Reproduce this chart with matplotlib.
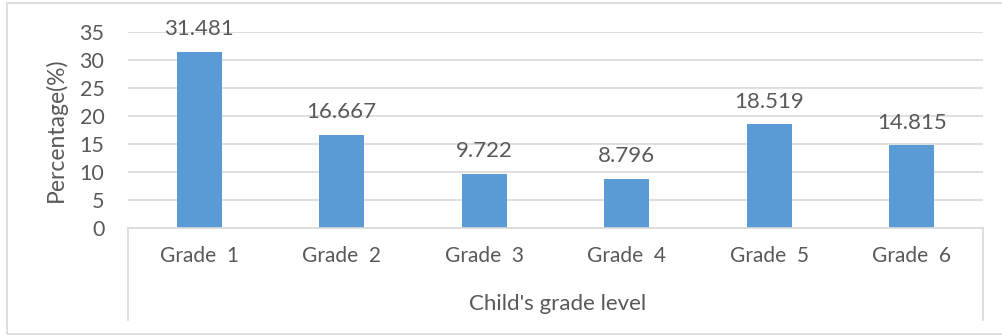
import matplotlib
matplotlib.use("Agg")
import matplotlib.pyplot as plt
from matplotlib.lines import Line2D
from matplotlib.patches import Rectangle

categories = ["Grade  1", "Grade  2", "Grade  3", "Grade  4", "Grade  5", "Grade  6"]
percentages = [31.481, 16.667, 9.722, 8.796, 18.519, 14.815]
value_labels = ["31.481", "16.667", "9.722", "8.796", "18.519", "14.815"]
y_ticks = [0, 5, 10, 15, 20, 25, 30, 35]

W, H = 1002, 335
DPI = 100
TEXT = "#595959"
GRID = "#D9D9D9"
BAR = "#5B9BD5"

plt.rcParams["font.family"] = ["Lato", "DejaVu Sans"]

fig = plt.figure(figsize=(W / DPI, H / DPI), dpi=DPI)

def fx(px):
    return px / W

def fy(py):
    return 1 - py / H

left, right, top, bottom = 128, 983, 32, 228
ax = fig.add_axes([fx(left), fy(bottom), fx(right - left), fy(top) - fy(bottom)])

x = range(len(categories))
ax.bar(x, percentages, width=0.316, color=BAR, zorder=3)
for xi, v, lab in zip(x, percentages, value_labels):
    ax.annotate(lab, (xi, v), xytext=(0, 9), textcoords="offset points",
                ha="center", va="bottom", fontsize=16, color=TEXT)

ax.set_xlim(-0.5, len(categories) - 0.5)
ax.set_ylim(0, 35)
ax.set_yticks(y_ticks)
ax.set_xticks(list(x))
ax.set_xticklabels(categories)
ax.tick_params(axis="y", length=0, pad=17, labelsize=15.5, labelcolor=TEXT)
ax.tick_params(axis="x", length=0, pad=13, labelsize=15, labelcolor=TEXT)
ax.grid(axis="y", color=GRID, linewidth=1.2, zorder=0)
for side in ("left", "right", "top"):
    ax.spines[side].set_visible(False)
ax.spines["bottom"].set_color(GRID)
ax.spines["bottom"].set_linewidth(1.2)
ax.spines["bottom"].set_zorder(4)

ax.set_ylabel("Percentage(%)", fontsize=16.5, color=TEXT, labelpad=9)

# Category frame below the axis
for px in (left, right):
    fig.add_artist(Line2D([fx(px), fx(px)], [fy(bottom), fy(320)],
                          color=GRID, linewidth=1.2))

fig.text(fx(558), fy(304), "Child's grade level", ha="center", va="center",
         fontsize=16, color=TEXT)

# Chart border
fig.add_artist(Rectangle((fx(7), fy(334)), fx(1010 - 7), fy(3) - fy(334),
                         fill=False, edgecolor=GRID, linewidth=1.2,
                         transform=fig.transFigure))

fig.savefig("out.png", dpi=DPI, facecolor="white")
